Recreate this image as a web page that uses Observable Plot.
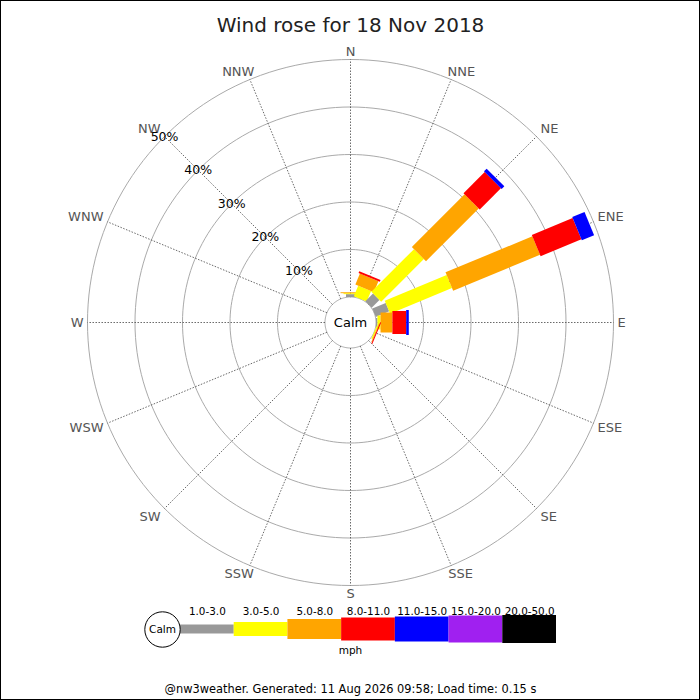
<!DOCTYPE html>
<html>
<head>
<meta charset="utf-8">
<script src="https://cdn.jsdelivr.net/npm/d3@7"></script>
<script src="https://cdn.jsdelivr.net/npm/@observablehq/plot@0.6"></script>
<style>
  body { margin: 0; background: white; }
  #chart { position: relative; width: 700px; height: 700px; font-family: "DejaVu Sans", sans-serif; }
  #chart svg { position: absolute; left: 0; background: transparent; }
  #rose { top: 0; }
  #legend { top: 589px; }
  .frame { position: absolute; left: 0; top: 0; width: 700px; height: 700px; box-sizing: border-box; border: 1px solid black; pointer-events: none; }
</style>
</head>
<body>
<div id="chart"><div class="frame"></div></div>
<script>
// compass points, clockwise from N
const directions = ["N","NNE","NE","ENE","E","ESE","SE","SSE","S","SSW","SW","WSW","W","WNW","NW","NNW"]
const speedBins = ["1.0-3.0","3.0-5.0","5.0-8.0","8.0-11.0","11.0-15.0","15.0-20.0","20.0-50.0"]
const ringPcts = [10, 20, 30, 40, 50]

// % of time per direction, one array per speed bin
const pct_1_3   = [0.6, 0,   2.3, 3.05, 0.3,  0,    0,0,0,0,0,0,0,0,0,0]
const pct_3_5   = [0.2, 2.4, 12.7, 14.1, 0.65, 0.25, 0,0,0,0,0,0,0,0,0,0]
const pct_5_8   = [0.2, 2.5, 15.7, 19.8, 2.5,  0.15, 0,0,0,0,0,0,0,0,0,0]
const pct_8_11  = [0,   0.4, 6.3, 9.3,  2.9,  0.2,  0,0,0,0,0,0,0,0,0,0]
const pct_11_15 = [0,   0,   0.8, 2.8,  0.55, 0,    0,0,0,0,0,0,0,0,0,0]
const pct_15_20 = [0,0,0,0,0,0,0,0,0,0,0,0,0,0,0,0]
const pct_20_50 = [0,0,0,0,0,0,0,0,0,0,0,0,0,0,0,0]
const series = [pct_1_3, pct_3_5, pct_5_8, pct_8_11, pct_11_15, pct_15_20, pct_20_50]

// styles
const binColors = ["#999999","#ffff00","#ffa500","#ff0000","#0000ff","#a020f0","#000000"]
const binWidths = [9, 14, 20, 23, 25, 27, 28]
const pxPerPct = 4.75
const calmR = 5.37   // calm circle radius in % units
const cx = 350, cy = 322
const labelSize = 13
const charW = {W: 0.989, N: 0.748, E: 0.632, S: 0.635}

const rad = d => d * Math.PI / 180
const px = (r, a) => r * Math.sin(rad(a))
const py = (r, a) => r * Math.cos(rad(a))
const clamp1 = v => Math.max(-1, Math.min(1, v))

// stacked segments
const segments = []
directions.forEach((dir, i) => {
  const a = i * 22.5
  let cum = calmR
  series.forEach((s, b) => {
    const v = s[i]
    if (v > 0) {
      segments.push({dir, bin: speedBins[b], a, r0: cum, r1: cum + v, color: binColors[b], w: binWidths[b]})
      cum += v
    }
  })
})

const rings = []
;[calmR, ...ringPcts.map(p => calmR + p)].forEach((r, k) => {
  d3.range(0, 361, 2).forEach(t => rings.push({k, x: px(r, t), y: py(r, t)}))
})
const outerR = calmR + ringPcts[ringPcts.length - 1]
const spokes = directions.map((dir, i) => ({dir, a: i * 22.5}))

// compass labels sit just outside the spoke end, box touching it
const dirLabels = spokes.map(d => {
  const w = d3.sum(d.dir.split(""), c => charW[c]) * labelSize
  const ox = (w / 2 + 4) * clamp1(Math.sin(rad(d.a)) * 1.5)
  const oy = (5 + 3) * clamp1(Math.cos(rad(d.a)) * 1.5)
  return {dir: d.dir, x: px(outerR, d.a) + ox / pxPerPct, y: py(outerR, d.a) + oy / pxPerPct}
})

let rose = Plot.plot({
  width: 700,
  height: 700,
  margin: 0,
  x: {domain: [-cx / pxPerPct, (700 - cx) / pxPerPct], axis: null},
  y: {domain: [-(700 - cy) / pxPerPct, cy / pxPerPct], axis: null},
  color: {type: "identity"},
  style: {fontFamily: "DejaVu Sans, sans-serif", background: "transparent"},
  marks: [
    Plot.line(rings, {x: "x", y: "y", z: "k", stroke: "#aaaaaa", strokeWidth: 1}),
    Plot.link(spokes, {
      x1: d => px(calmR, d.a), y1: d => py(calmR, d.a),
      x2: d => px(outerR, d.a), y2: d => py(outerR, d.a),
      stroke: "#444", strokeWidth: 0.8, strokeDasharray: "1.5,1.5"
    }),
    Plot.link(segments, {
      x1: d => px(d.r0, d.a), y1: d => py(d.r0, d.a),
      x2: d => px(d.r1, d.a), y2: d => py(d.r1, d.a),
      stroke: "color", strokeWidth: "w"
    }),
    Plot.text(dirLabels, {x: "x", y: "y", text: "dir", fill: "#555", fontSize: labelSize}),
    Plot.text(ringPcts, {
      x: p => px(calmR + p, 315), y: p => py(calmR + p, 315),
      text: p => p + "%", fill: "black", fontSize: 12.5
    }),
    Plot.text(["Calm"], {x: () => 0, y: () => 0, text: d => d, fill: "black", fontSize: 13}),
    Plot.text(["Wind rose for 18 Nov 2018"], {frameAnchor: "top", dy: 17.5, text: d => d, fill: "#222", fontSize: 20}),
    Plot.text(["mph"], {frameAnchor: "bottom", dy: -47, text: d => d, fill: "black", fontSize: 10.5}),
    Plot.text(["@nw3weather. Generated: 11 Aug 2026 09:58; Load time: 0.15 s"], {frameAnchor: "bottom", dy: -7.5, text: d => d, fill: "black", fontSize: 11.4})
  ]
})
rose.id = "rose"

const legendBins = speedBins.map((bin, i) => ({bin, i, color: binColors[i], w: binWidths[i]}))

let legend = Plot.plot({
  width: 700,
  height: 80,
  marginLeft: 180,
  marginRight: 144,
  marginTop: 0,
  marginBottom: 0,
  x: {domain: [0, speedBins.length], axis: null},
  y: {domain: [-40, 40], axis: null},
  color: {type: "identity"},
  style: {fontFamily: "DejaVu Sans, sans-serif", background: "transparent", overflow: "visible"},
  marks: [
    Plot.rect(legendBins, {x1: "i", x2: d => d.i + 1, y1: d => -d.w / 2, y2: d => d.w / 2, fill: "color"}),
    Plot.text(legendBins, {x: d => d.i + 0.5, frameAnchor: "top", dy: 17.7, text: "bin", fill: "black", fontSize: 10.4}),
    Plot.dot(["Calm"], {frameAnchor: "left", dx: -18, r: 17.7, fill: "white", stroke: "black", strokeWidth: 1}),
    Plot.text(["Calm"], {frameAnchor: "left", dx: -18, textAnchor: "middle", text: d => d, fill: "black", fontSize: 10.5})
  ]
})
legend.id = "legend"

d3.select('#chart').append(() => rose)
d3.select('#chart').append(() => legend)
</script>
</body>
</html>
